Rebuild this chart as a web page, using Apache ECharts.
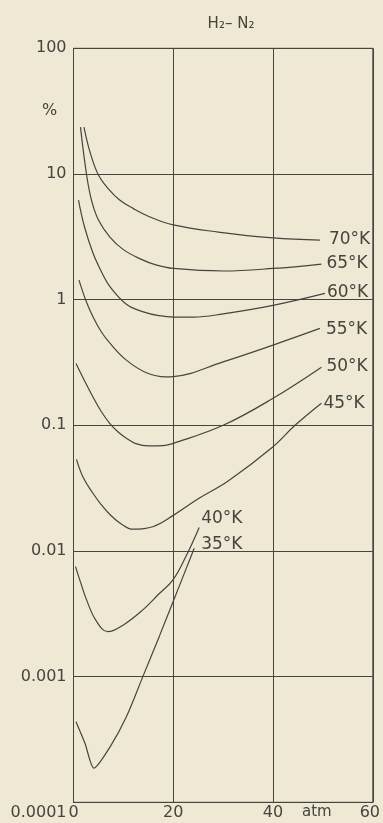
<!DOCTYPE html>
<html><head><meta charset="utf-8">
<script src="https://cdn.jsdelivr.net/npm/echarts@6/dist/echarts.min.js"></script>
<style>html,body{margin:0;padding:0;background:#eee8d5;}#c{width:383px;height:823px;}</style>
</head><body><div id="c"></div>
<script>
// Tick labels
const xTickLabels = ['0', '20', '40', '60'];
const yTickLabels = ['0.0001', '0.001', '0.01', '0.1', '1', '10', '100'];
const titleText = 'H₂– N₂';
const yUnit = '%';
const xUnit = 'atm';

// Curve names (temperature)
const curveNames = ['70°K', '65°K', '60°K', '55°K', '50°K', '45°K', '40°K', '35°K'];

// Pressure (atm) and concentration (%) for each curve
const p70 = [2.1, 3.2, 4.9, 7, 9.25, 12, 15.2, 20, 29, 40, 49.4];
const v70 = [23.6, 15.5, 10, 7.6, 6.2, 5.3, 4.57, 3.93, 3.45, 3.1, 2.98];
const p65 = [1.4, 2.6, 3.6, 5, 7.3, 10, 13.5, 16.5, 20, 30, 40, 49.7];
const v65 = [23.6, 10, 6.2, 4.3, 3.15, 2.5, 2.1, 1.89, 1.77, 1.69, 1.77, 1.92];
const p60 = [1.0, 2.2, 3.9, 5.5, 7.3, 10.6, 14, 17.2, 20, 24, 30, 40, 50.4];
const v60 = [6.2, 3.8, 2.35, 1.7, 1.27, 0.92, 0.8, 0.745, 0.725, 0.725, 0.77, 0.9, 1.12];
const p55 = [1.1, 2.5, 3.9, 5.5, 7.3, 10.6, 14.6, 18.5, 20, 30, 40, 49.4];
const v55 = [1.43, 0.98, 0.73, 0.56, 0.45, 0.33, 0.262, 0.243, 0.244, 0.32, 0.435, 0.59];
const p50 = [0.5, 2, 3.9, 5.5, 7.3, 9, 10.6, 12.5, 15, 18, 20, 30, 40, 49.7];
const v50 = [0.31, 0.235, 0.168, 0.13, 0.103, 0.088, 0.079, 0.0715, 0.0685, 0.069, 0.0718, 0.1, 0.164, 0.29];
const p45 = [0.6, 2, 3.9, 5.5, 7.3, 9.5, 11.9, 15.9, 20, 25, 31, 40, 44.4, 49.7];
const v45 = [0.0536, 0.038, 0.0288, 0.0235, 0.0195, 0.0165, 0.0149, 0.0156, 0.0192, 0.026, 0.036, 0.0675, 0.1, 0.15];
const p40 = [0.4, 1.5, 2.6, 4.5, 6.9, 10, 13.9, 17, 19.9, 22.5, 25.2];
const v40 = [0.0075, 0.0055, 0.0041, 0.0028, 0.00228, 0.00258, 0.0034, 0.0045, 0.00587, 0.009, 0.0154];
const p35 = [0.5, 2.3, 4.1, 7.3, 10.6, 13.9, 17.2, 20, 24.2];
const v35 = [0.000438, 0.000295, 0.000187, 0.000275, 0.00048, 0.001, 0.00209, 0.00398, 0.0105];

const pArrays = [p70, p65, p60, p55, p50, p45, p40, p35];
const vArrays = [v70, v65, v60, v55, v50, v45, v40, v35];

const ink = '#45453f';
const labelOffsets = [[0, 0], [0, 0], [0, -1], [0, 1], [0, -1], [0, 0], [0, -9], [0, -4]];
const labelDist = [9, 5, 2, 6, 5, 2, 2, 7];
const smoothness = [0.4, 0.4, 0.4, 0.4, 0.4, 0.4, 0.4, 0.25];

const series = curveNames.map((name, k) => ({
  name: name,
  type: 'line',
  data: pArrays[k].map((x, i) => [x, vArrays[k][i]]),
  smooth: smoothness[k],
  symbol: 'none',
  lineStyle: { color: ink, width: 1.2 },
  endLabel: {
    show: true,
    formatter: name,
    color: ink,
    fontSize: 17,
    fontFamily: 'DejaVu Sans',
    distance: labelDist[k],
    offset: labelOffsets[k]
  },
  silent: true,
  animation: false
}));

const chart = echarts.init(document.getElementById('c'));
chart.setOption({
  backgroundColor: '#eee8d5',
  animation: false,
  title: {
    text: titleText,
    left: 226,
    top: 12,
    textAlign: 'center',
    textStyle: { color: ink, fontSize: 15, fontWeight: 'normal', fontFamily: 'DejaVu Sans' }
  },
  grid: { left: 73.5, right: 8, top: 48.3, bottom: 20.7, show: true, borderColor: ink, borderWidth: 1 },
  xAxis: {
    type: 'value', min: 0, max: 60, interval: 20,
    axisLine: { show: true, lineStyle: { color: ink, width: 1 } },
    axisTick: { show: false },
    splitLine: { show: true, lineStyle: { color: ink, width: 1 } },
    axisLabel: {
      margin: 3, color: ink, fontSize: 16, fontFamily: 'DejaVu Sans',
      formatter: v => {
        const k = Math.round(v / 20);
        return k === 3 ? '{r|' + xTickLabels[k] + '}' : xTickLabels[k];
      },
      rich: { r: { fontSize: 16, fontFamily: 'DejaVu Sans', color: ink, padding: [0, 6, 0, 0] } }
    }
  },
  yAxis: {
    type: 'log', logBase: 10, min: 0.0001, max: 100,
    axisLine: { show: true, lineStyle: { color: ink, width: 1 } },
    axisTick: { show: false },
    minorTick: { show: false },
    splitLine: { show: true, lineStyle: { color: ink, width: 1 } },
    axisLabel: {
      margin: 7, color: ink, fontSize: 16, fontFamily: 'DejaVu Sans',
      formatter: v => {
        const k = Math.round(Math.log10(v)) + 4;
        return k === 0 ? '{low|' + yTickLabels[0] + '}' : yTickLabels[k];
      },
      rich: { low: { fontSize: 16, fontFamily: 'DejaVu Sans', color: ink, padding: [22, 0, 0, 0] } }
    }
  },
  graphic: [
    { type: 'text', left: 42, top: 103, style: { text: yUnit, fill: ink, fontSize: 16, fontFamily: 'DejaVu Sans' } },
    { type: 'text', left: 302, top: 805, style: { text: xUnit, fill: ink, fontSize: 15, fontFamily: 'DejaVu Sans' } }
  ],
  series: series
});
</script></body></html>
